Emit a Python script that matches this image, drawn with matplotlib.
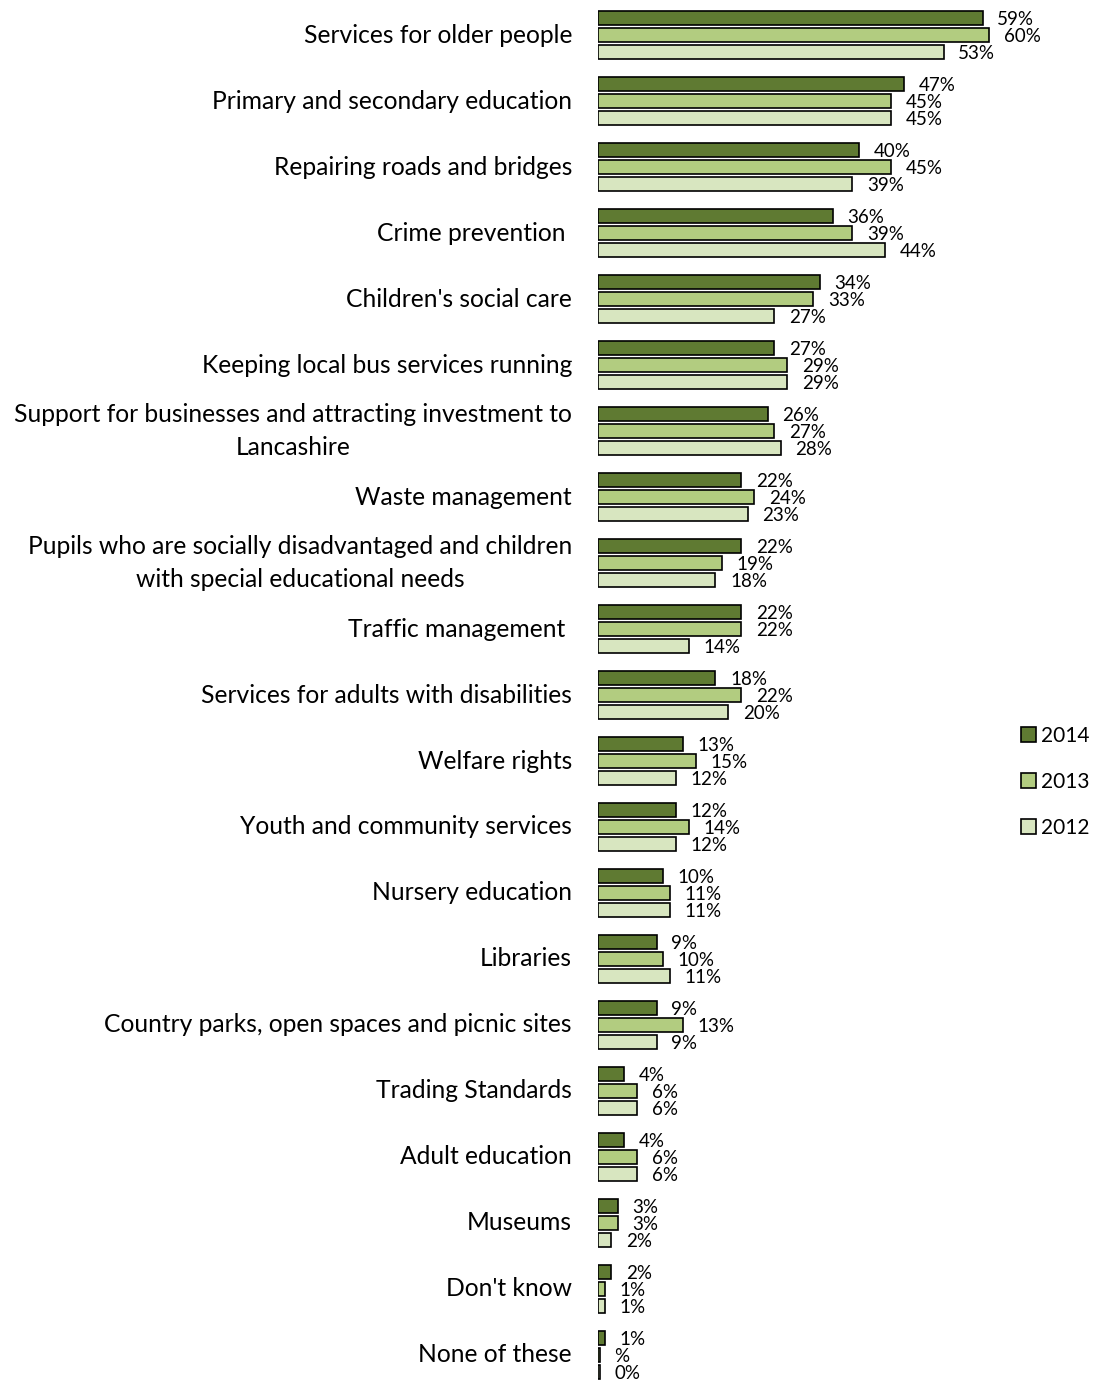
import matplotlib.pyplot as plt
from matplotlib.patches import Patch

categories = [
    "Services for older people",
    "Primary and secondary education",
    "Repairing roads and bridges",
    "Crime prevention ",
    "Children's social care",
    "Keeping local bus services running",
    "Support for businesses and attracting investment to\nLancashire",
    "Waste management",
    "Pupils who are socially disadvantaged and children\nwith special educational needs",
    "Traffic management ",
    "Services for adults with disabilities",
    "Welfare rights",
    "Youth and community services",
    "Nursery education",
    "Libraries",
    "Country parks, open spaces and picnic sites",
    "Trading Standards",
    "Adult education",
    "Museums",
    "Don't know",
    "None of these",
]

vals_2014 = [59, 47, 40, 36, 34, 27, 26, 22, 22, 22, 18, 13, 12, 10, 9, 9, 4, 4, 3, 2, 1]
vals_2013 = [60, 45, 45, 39, 33, 29, 27, 24, 19, 22, 22, 15, 14, 11, 10, 13, 6, 6, 3, 1, 0.3]
vals_2012 = [53, 45, 39, 44, 27, 29, 28, 23, 18, 14, 20, 12, 12, 11, 11, 9, 6, 6, 2, 1, 0.3]

labels_2014 = [f"{v}%" for v in vals_2014]
labels_2013 = [f"{v}%" for v in vals_2013[:-1]] + ["%"]
labels_2012 = [f"{v}%" for v in vals_2012[:-1]] + ["0%"]

years = ["2014", "2013", "2012"]
colors = ["#5f7a32", "#b2cc80", "#d8e6c0"]

plt.rcParams['font.family'] = ['Lato', 'DejaVu Sans']

fig = plt.figure(figsize=(10.96, 13.8), dpi=100)
ax = fig.add_axes([598 / 1096, 0, (1010 - 598) / 1096, 1])

offset = 17 / 66
height = 14 / 66
series = [(vals_2014, labels_2014), (vals_2013, labels_2013), (vals_2012, labels_2012)]

for k, (vals, labs) in enumerate(series):
    ys = [i + (k - 1) * offset for i in range(len(categories))]
    ax.barh(ys, vals, height=height, color=colors[k], edgecolor='black', linewidth=1.2)
    for y, v, t in zip(ys, vals, labs):
        ax.annotate(t, (v, y), xytext=(10.5, -1), textcoords='offset points',
                    ha='left', va='center', fontsize=13.5)

# category names, two-line ones centred on themselves
for i, c in enumerate(categories):
    ax.text(-26 / 6.52, i, c, ha='right', va='center', multialignment='center',
            fontsize=17.7, linespacing=1.55)

ax.set_xlim(0, (1010 - 598) / 6.52)
ax.set_ylim((1380 - 35) / 66, -35 / 66)
ax.axis('off')

handles = [Patch(facecolor=colors[k], edgecolor='black', linewidth=1.2, label=years[k]) for k in range(3)]
fig.legend(handles=handles, loc='center left', bbox_to_anchor=(1017 / 1096, 1 - 782 / 1380),
           frameon=False, fontsize=15, handlelength=0.7, handleheight=0.7,
           handletextpad=0.25, labelspacing=1.25, borderaxespad=0, borderpad=0.2)

fig.savefig("out.png", dpi=100)
